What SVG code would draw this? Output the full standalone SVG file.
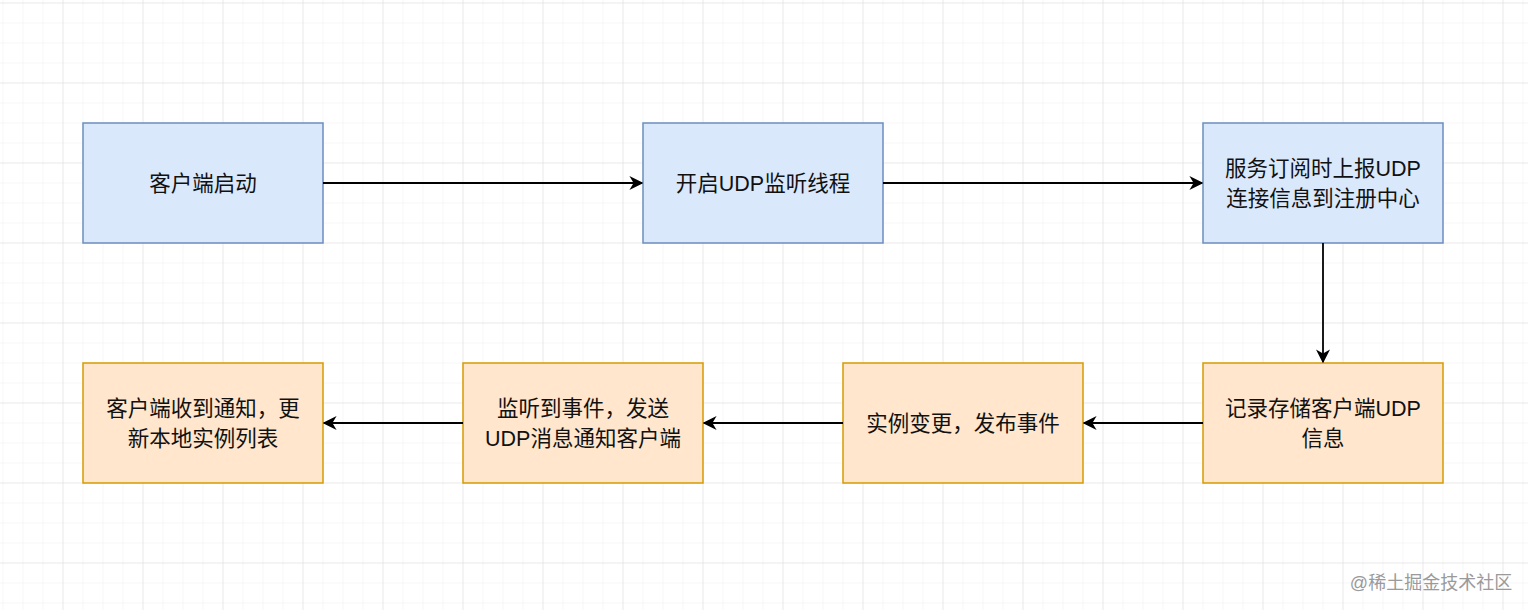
<svg xmlns="http://www.w3.org/2000/svg" width="1528" height="610" viewBox="0 0 1528 610">
<defs>
<pattern id="minor" width="20" height="20" patternUnits="userSpaceOnUse" x="2.5" y="2.5"><path d="M0 0H20M0 0V20" fill="none" stroke="#efefef" stroke-width="1"/></pattern>
<pattern id="major" width="80" height="80" patternUnits="userSpaceOnUse" x="62.5" y="2.5"><path d="M0 0H80M0 0V80" fill="none" stroke="#dedede" stroke-width="1"/></pattern>
<marker id="arr" viewBox="0 0 10 10" refX="9" refY="5" markerWidth="14" markerHeight="14" markerUnits="userSpaceOnUse" orient="auto"><path d="M0 0L10 5L0 10L3 5Z" fill="#000"/></marker>
</defs>
<style>
.b rect{fill:#dae8fc;stroke:#6c8ebf;stroke-width:1.5}
.o rect{fill:#ffe6cc;stroke:#d79b00;stroke-width:1.5}
text{font-family:"Liberation Sans","Noto Sans CJK SC",sans-serif;font-size:21.5px;fill:#111;text-anchor:middle}
.c path{fill:none;stroke:#000;stroke-width:1.8;marker-end:url(#arr)}
</style>
<rect width="1528" height="610" fill="#fff"/>
<rect width="1528" height="610" fill="url(#minor)"/>
<rect width="1528" height="610" fill="url(#major)"/>
<g id="n1" class="b"><rect x="83" y="123" width="240" height="120"/><text x="203" y="191">客户端启动</text></g>
<g id="n2" class="b"><rect x="643" y="123" width="240" height="120"/><text x="763" y="191">开启UDP监听线程</text></g>
<g id="n3" class="b"><rect x="1203" y="123" width="240" height="120"/><text x="1323" y="176">服务订阅时上报UDP</text><text x="1323" y="206">连接信息到注册中心</text></g>
<g id="n4" class="o"><rect x="1203" y="363" width="240" height="120"/><text x="1323" y="416">记录存储客户端UDP</text><text x="1323" y="446">信息</text></g>
<g id="n5" class="o"><rect x="843" y="363" width="240" height="120"/><text x="963" y="431">实例变更，发布事件</text></g>
<g id="n6" class="o"><rect x="463" y="363" width="240" height="120"/><text x="583" y="416">监听到事件，发送</text><text x="583" y="446">UDP消息通知客户端</text></g>
<g id="n7" class="o"><rect x="83" y="363" width="240" height="120"/><text x="203" y="416">客户端收到通知，更</text><text x="203" y="446">新本地实例列表</text></g>
<g id="connectors" class="c">
<path d="M323 183H642"/>
<path d="M883 183H1202"/>
<path d="M1323 243V362"/>
<path d="M1203 423H1084"/>
<path d="M843 423H704"/>
<path d="M463 423H324"/>
</g>
<text x="1431" y="589" style="font-size:18px;fill:#9a9a9a">@稀土掘金技术社区</text>
</svg>
